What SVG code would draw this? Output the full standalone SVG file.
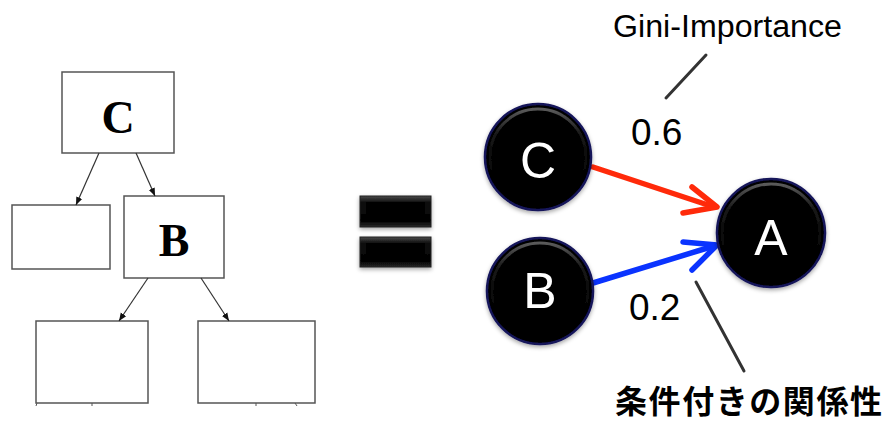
<svg xmlns="http://www.w3.org/2000/svg" width="889" height="424" viewBox="0 0 889 424">
  <defs>
    <style>
      .box { fill: #ffffff; stroke: #555555; stroke-width: 1.5; }
      .edge { stroke: #333333; stroke-width: 1.2; fill: none; marker-end: url(#tip); }
      .tick { stroke: #555555; stroke-width: 1; }
      .serif { font-family: "Liberation Serif", "Times New Roman", serif; font-weight: bold; font-size: 46px; fill: #000; text-anchor: middle; }
      .node { fill: #000; stroke: #14145a; stroke-width: 2.5; }
      .shine { fill: none; stroke: url(#rim); stroke-width: 3; }
      .nlabel { font-family: "Liberation Sans", Arial, sans-serif; font-size: 50px; fill: #ffffff; text-anchor: middle; }
      .weight { font-family: "Liberation Sans", Arial, sans-serif; font-size: 37px; fill: #000; }
      .leader { stroke: #333333; stroke-width: 3; stroke-linecap: round; }
      .bar { fill: url(#barfill); stroke: #222; stroke-width: 1; }
    </style>
    <marker id="tip" viewBox="0 0 10 10" refX="10" refY="5" markerWidth="8" markerHeight="8" markerUnits="userSpaceOnUse" orient="auto">
      <path d="M0,1 L10,5 L0,9 Z" fill="#111"/>
    </marker>
    <linearGradient id="rim" x1="0" y1="0" x2="0" y2="1">
      <stop offset="0" stop-color="#5a5a5a"/>
      <stop offset="0.25" stop-color="#1a1a1a"/>
      <stop offset="1" stop-color="#000" stop-opacity="0"/>
    </linearGradient>
    <linearGradient id="barfill" x1="0" y1="0" x2="0" y2="1">
      <stop offset="0" stop-color="#4a4a4a"/>
      <stop offset="0.2" stop-color="#111"/>
      <stop offset="0.8" stop-color="#000"/>
      <stop offset="1" stop-color="#2a2a2a"/>
    </linearGradient>
    <filter id="soft" x="-20%" y="-20%" width="140%" height="140%">
      <feDropShadow dx="0" dy="2" stdDeviation="2" flood-color="#000" flood-opacity="0.35"/>
    </filter>
  </defs>

  <!-- decision tree -->
  <g id="tree-C">
    <rect class="box" x="62" y="72" width="112" height="81"/>
    <text class="serif" x="118" y="133">C</text>
  </g>
  <g id="tree-left">
    <rect class="box" x="12" y="205" width="98" height="64"/>
  </g>
  <g id="tree-B">
    <rect class="box" x="124" y="196" width="100" height="82"/>
    <text class="serif" x="174" y="256">B</text>
  </g>
  <g id="tree-BL">
    <rect class="box" x="36" y="321" width="112" height="82"/>
    <line class="tick" x1="37" y1="403" x2="36" y2="406"/>
    <line class="tick" x1="92" y1="403" x2="92" y2="406"/>
  </g>
  <g id="tree-BR">
    <rect class="box" x="198" y="321" width="117" height="82"/>
    <line class="tick" x1="256" y1="403" x2="256" y2="406"/>
    <line class="tick" x1="295" y1="403" x2="297" y2="406"/>
  </g>
  <g id="tree-edges">
    <line class="edge" x1="99" y1="153" x2="76" y2="205"/>
    <line class="edge" x1="136" y1="153" x2="155" y2="196"/>
    <line class="edge" x1="148" y1="278" x2="119" y2="321"/>
    <line class="edge" x1="201" y1="278" x2="229" y2="321"/>
  </g>

  <!-- equals sign -->
  <g id="equals" filter="url(#soft)">
    <rect class="bar" x="360" y="196" width="71" height="31"/>
    <rect x="366" y="202" width="59" height="19" fill="#000"/>
    <rect class="bar" x="360" y="237" width="71" height="30"/>
    <rect x="366" y="243" width="59" height="18" fill="#000"/>
  </g>

  <!-- dependency graph -->
  <g id="connectors">
    <g fill="none" stroke-width="5.5" stroke-linecap="round" stroke-linejoin="round">
      <path d="M593,167 L714,207" stroke="#ff2a0a"/>
      <path d="M692,187 L717,207 L683,213" stroke="#ff2a0a"/>
      <path d="M593,283 L714,246" stroke="#0a33ff"/>
      <path d="M683,242 L717,245 L692,270" stroke="#0a33ff"/>
    </g>
    <line class="leader" x1="706" y1="55" x2="666" y2="98"/>
    <line class="leader" x1="696" y1="282" x2="744" y2="371"/>
  </g>
  <g id="node-C" filter="url(#soft)">
    <circle class="node" cx="538" cy="157" r="53"/>
    <circle class="shine" cx="538" cy="157" r="48"/>
    <text class="nlabel" x="538" y="178">C</text>
  </g>
  <g id="node-B" filter="url(#soft)">
    <circle class="node" cx="540" cy="291" r="53"/>
    <circle class="shine" cx="540" cy="291" r="48"/>
    <text class="nlabel" x="540" y="308">B</text>
  </g>
  <g id="node-A" filter="url(#soft)">
    <circle class="node" cx="771" cy="233" r="54"/>
    <circle class="shine" cx="771" cy="233" r="49"/>
    <text class="nlabel" x="771" y="255">A</text>
  </g>

  <text class="weight" x="631" y="145">0.6</text>
  <text class="weight" x="629" y="320">0.2</text>
  <text x="613" y="37" font-family="Liberation Sans, Arial, sans-serif" font-size="31" textLength="229" lengthAdjust="spacingAndGlyphs" fill="#000">Gini-Importance</text>
  <text x="615" y="413" font-family="Noto Sans CJK JP, sans-serif" font-weight="bold" font-size="32" textLength="267" fill="#000">条件付きの関係性</text>
</svg>
